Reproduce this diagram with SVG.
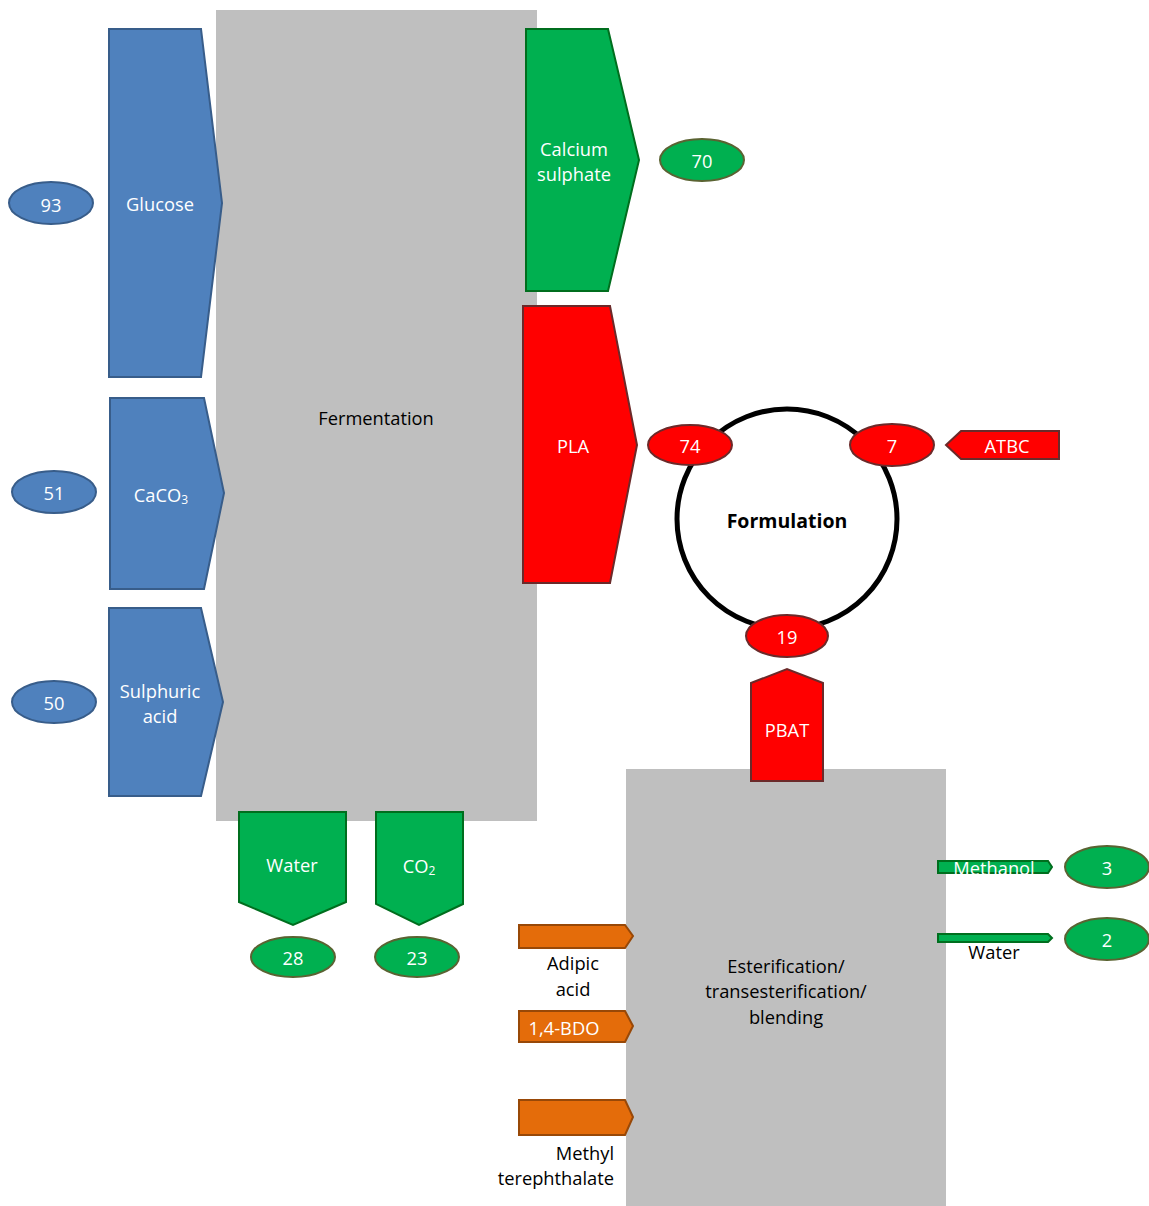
<svg xmlns="http://www.w3.org/2000/svg" width="1149" height="1206" viewBox="0 0 1149 1206">
<style>
text{font-family:"Open Sans","Liberation Sans",Arial,sans-serif;font-size:18.3px;text-anchor:middle;dominant-baseline:central}
.w{fill:#fff}
.k{fill:#000}
.proc{fill:#BFBFBF}
.blue{fill:#4F81BD;stroke:#385D8A;stroke-width:2}
.green{fill:#00B050;stroke:#006E1E;stroke-width:2}
.gell{fill:#00B050;stroke:#5A6332;stroke-width:2}
.red{fill:#FF0000;stroke:#6B2A2A;stroke-width:2}
.orange{fill:#E46C0A;stroke:#984807;stroke-width:2}
</style>
<rect width="1149" height="1206" fill="#fff"/>
<g id="fermentation"><rect class="proc" x="216" y="10" width="321" height="811"/><text class="k" x="376" y="417">Fermentation</text></g>
<g id="esterification"><rect class="proc" x="626" y="769" width="320" height="437"/><text class="k" x="786" y="965">Esterification/</text><text class="k" x="786" y="990">transesterification/</text><text class="k" x="786" y="1016">blending</text></g>
<g id="glucose"><polygon class="blue" points="109,29 201,29 222,203 201,377 109,377"/><text class="w" x="160" y="203">Glucose</text></g>
<g id="v93"><ellipse class="blue" cx="51" cy="203" rx="42" ry="21"/><text class="w" x="51" y="204">93</text></g>
<g id="caco3"><polygon class="blue" points="110,398 204,398 224,493 204,589 110,589"/><text class="w" x="161" y="494">CaCO<tspan font-size="12" dy="5">3</tspan></text></g>
<g id="v51"><ellipse class="blue" cx="54" cy="492" rx="42" ry="21"/><text class="w" x="54" y="492">51</text></g>
<g id="sulphuric"><polygon class="blue" points="109,608 201,608 223,702 201,796 109,796"/><text class="w" x="160" y="690">Sulphuric</text><text class="w" x="160" y="715">acid</text></g>
<g id="v50"><ellipse class="blue" cx="54" cy="702" rx="42" ry="21"/><text class="w" x="54" y="702">50</text></g>
<g id="calcium"><polygon class="green" points="526,29 608,29 639,160 608,291 526,291"/><text class="w" x="574" y="148">Calcium</text><text class="w" x="574" y="173">sulphate</text></g>
<g id="v70"><ellipse class="gell" cx="702" cy="160" rx="42" ry="21"/><text class="w" x="702" y="160">70</text></g>
<g id="pla"><polygon class="red" points="523,306 610,306 637,445 610,583 523,583"/><text class="w" x="573" y="445">PLA</text></g>
<g id="formulation"><circle cx="787" cy="519" r="110" fill="#fff" stroke="#000" stroke-width="5"/><text x="787" y="520" style="font-weight:bold;font-size:19.5px;fill:#000">Formulation</text></g>
<g id="v74"><ellipse class="red" cx="690" cy="445" rx="42" ry="20"/><text class="w" x="690" y="445">74</text></g>
<g id="v7"><ellipse class="red" cx="892" cy="445" rx="42" ry="21"/><text class="w" x="892" y="445">7</text></g>
<g id="atbc"><polygon class="red" points="946,445 961,431 1059,431 1059,459 961,459"/><text class="w" x="1007" y="445">ATBC</text></g>
<g id="v19"><ellipse class="red" cx="787" cy="636" rx="41" ry="21"/><text class="w" x="787" y="636">19</text></g>
<g id="pbat"><polygon class="red" points="751,683 787,669 823,683 823,781 751,781"/><text class="w" x="787" y="729">PBAT</text></g>
<g id="water1"><polygon class="green" points="239,812 346,812 346,902 293,925 239,902"/><text class="w" x="292" y="864">Water</text></g>
<g id="v28"><ellipse class="gell" cx="293" cy="957" rx="42" ry="20"/><text class="w" x="293" y="957">28</text></g>
<g id="co2"><polygon class="green" points="376,812 463,812 463,904 419,925 376,904"/><text class="w" x="419" y="865">CO<tspan font-size="12" dy="5">2</tspan></text></g>
<g id="v23"><ellipse class="gell" cx="417" cy="957" rx="42" ry="20"/><text class="w" x="417" y="957">23</text></g>
<g id="methanol"><polygon class="green" points="938,861 1048,861 1052,867 1048,873 938,873"/><text class="w" x="994" y="867">Methanol</text></g>
<g id="v3"><ellipse class="gell" cx="1107" cy="867" rx="42" ry="21"/><text class="w" x="1107" y="867">3</text></g>
<g id="water2"><polygon class="green" points="938,934 1048,934 1052,938 1048,942 938,942"/><text class="k" x="994" y="951">Water</text></g>
<g id="v2"><ellipse class="gell" cx="1107" cy="939" rx="42" ry="21"/><text class="w" x="1107" y="939">2</text></g>
<g id="adipic"><polygon class="orange" points="519,925 625,925 633,936 625,948 519,948"/><text class="k" x="573" y="962">Adipic</text><text class="k" x="573" y="988">acid</text></g>
<g id="bdo"><polygon class="orange" points="519,1011 625,1011 633,1026 625,1042 519,1042"/><text class="w" x="564" y="1027">1,4-BDO</text></g>
<g id="methyl"><polygon class="orange" points="519,1100 625,1100 633,1117 625,1135 519,1135"/><text class="k" x="614" y="1152" style="text-anchor:end">Methyl</text><text class="k" x="614" y="1177" style="text-anchor:end">terephthalate</text></g>
<g id="connectors"></g>
</svg>
